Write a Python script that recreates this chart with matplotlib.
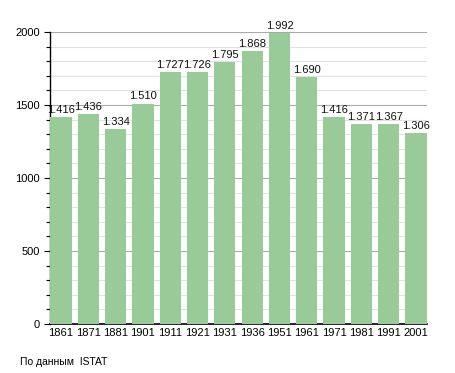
import numpy as np
import matplotlib
matplotlib.use("Agg")
import matplotlib.pyplot as plt
from matplotlib.ticker import MultipleLocator

years = ["1861", "1871", "1881", "1901", "1911", "1921", "1931",
         "1936", "1951", "1961", "1971", "1981", "1991", "2001"]
population = [1416, 1436, 1334, 1510, 1727, 1726, 1795,
              1868, 1992, 1690, 1416, 1371, 1367, 1306]
value_labels = ["1.416", "1.436", "1.334", "1.510", "1.727", "1.726", "1.795",
                "1.868", "1.992", "1.690", "1.416", "1.371", "1.367", "1.306"]

plt.rcParams['font.family'] = ['Liberation Sans', 'DejaVu Sans']

fig = plt.figure(figsize=(4.55, 3.73), dpi=100)
ax = fig.add_axes([50/455, 49/373, 377/455, 292/373])

x = np.arange(len(years))
ax.bar(x, population, width=0.78, color="#98CB98", zorder=3)
for xi, v, lab in zip(x, population, value_labels):
    ax.text(xi, v + 15, lab, ha="center", va="bottom", fontsize=8, color="#111111")

ax.set_xlim(-0.4, len(years) - 0.6)
ax.set_ylim(0, 2000)
ax.set_xticks(x)
ax.set_xticklabels(years, fontsize=8)
ax.yaxis.set_major_locator(MultipleLocator(500))
ax.yaxis.set_minor_locator(MultipleLocator(100))
ax.tick_params(axis="y", labelsize=8, length=4, width=0.8)
ax.tick_params(axis="y", which="minor", length=3, width=0.8)
ax.tick_params(axis="x", length=0, pad=3)

ax.grid(axis="y", which="minor", color="#e2e2e2", linewidth=0.8, zorder=0)
ax.grid(axis="y", which="major", color="#aaaaaa", linewidth=0.8, zorder=0)

for s in ["top", "right"]:
    ax.spines[s].set_visible(False)
ax.spines["left"].set_linewidth(1.0)
ax.spines["bottom"].set_linewidth(1.2)

fig.text(20/455, 1 - 362/373, "По данным  ISTAT", fontsize=7.5, va="center")

fig.savefig("out.png", dpi=100)
